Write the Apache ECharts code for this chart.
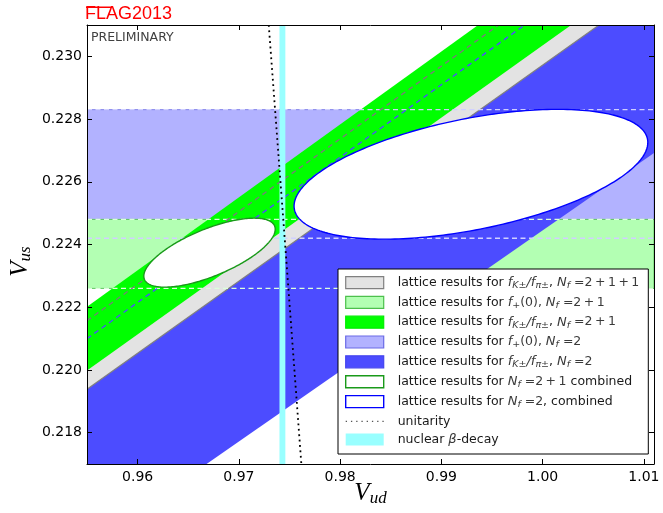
<!DOCTYPE html>
<html><head><meta charset="utf-8">
<script src="https://cdn.jsdelivr.net/npm/echarts@6/dist/echarts.min.js"></script>
<style>html,body{margin:0;padding:0;background:#fff}#c{width:663px;height:513px}</style>
</head><body><div id="c"></div>
<script>
// ---- axis ranges and tick labels ----
const vudRange = [0.955, 1.011];
const vusRange = [0.217, 0.231];
const vudTicks = [0.96, 0.97, 0.98, 0.99, 1.00, 1.01];
const vusTicks = [0.218, 0.220, 0.222, 0.224, 0.226, 0.228, 0.230];

// ---- horizontal bands: Vus interval from f+(0) ----
const fplusNf2  = [0.2242, 0.2283];
const fplusNf21 = [0.2226, 0.2248];
// ---- diagonal bands: interval of Vus/Vud from fK/fpi ----
const fKfpiNf2   = [0.22445, 0.23141];
const fKfpiNf211 = [0.22972, 0.23201];
const fKfpiNf21  = [0.23035, 0.23248];
// ---- combined ellipses: [centre Vud, centre Vus, half-width Vud, half-height Vus, correlation] ----
const ellipseNf21 = [0.96710, 0.22374, 0.00649, 0.00110, 0.68];
const ellipseNf2  = [0.99292, 0.22624, 0.01747, 0.00207, 0.49];
// ---- unitarity curve ----
const unitarityVud = [0.97295, 0.97457, 0.97617];
const unitarityVus = [0.231, 0.224, 0.217];
// ---- nuclear beta decay Vud interval ----
const betaDecay = [0.97401, 0.97459];

const X0 = vudRange[0], X1 = vudRange[1], Y0 = vusRange[0], Y1 = vusRange[1];

function clipRect(params) {
  const c = params.coordSys;
  return {type: 'rect', shape: {x: c.x, y: c.y, width: c.width, height: c.height}};
}

function hBand(name, range, fill, edge, z) {
  return {
    type: 'custom', name, z, data: [range], silent: true, clip: true,
    itemStyle: {color: fill},
    renderItem(params, api) {
      const a = api.value(0), b = api.value(1);
      const pts = [[X0, a], [X1, a], [X1, b], [X0, b]].map(p => api.coord(p));
      return {type: 'polygon', shape: {points: pts},
        style: {fill, stroke: edge, lineWidth: 1}, clipPath: clipRect(params)};
    }
  };
}

function dBand(name, ratios, fill, z, bottomEdge) {
  return {
    type: 'custom', name, z, data: [ratios], silent: true, clip: true,
    itemStyle: {color: fill},
    renderItem(params, api) {
      const a = api.value(0), b = api.value(1);
      const pts = [[X0, a * X0], [X1, a * X1], [X1, b * X1], [X0, b * X0]].map(p => api.coord(p));
      const children = [{type: 'polygon', shape: {points: pts}, style: {fill, lineWidth: 0}, clipPath: clipRect(params)}];
      if (bottomEdge) {
        children.push({type: 'line', shape: {x1: pts[0][0], y1: pts[0][1], x2: pts[1][0], y2: pts[1][1]},
          style: {stroke: bottomEdge, lineWidth: 1.2}, clipPath: clipRect(params)});
      }
      return {type: 'group', children};
    }
  };
}

function hDash(name, range, color, z) {
  return {
    type: 'custom', name, z, data: [range], silent: true, clip: true,
    renderItem(params, api) {
      const children = [0, 1].map(i => {
        const v = api.value(i);
        const p = api.coord([X0, v]), q = api.coord([X1, v]);
        return {type: 'line', shape: {x1: p[0], y1: p[1], x2: q[0], y2: q[1]},
          style: {stroke: color, lineWidth: 1.3, lineDash: [5, 3.5]}, clipPath: clipRect(params)};
      });
      return {type: 'group', children};
    }
  };
}

function dDash(name, ratios, idx, color, z) {
  return {
    type: 'custom', name, z, data: [ratios], silent: true, clip: true,
    renderItem(params, api) {
      const r = api.value(idx);
      const p = api.coord([X0, r * X0]), q = api.coord([X1, r * X1]);
      return {type: 'line', shape: {x1: p[0], y1: p[1], x2: q[0], y2: q[1]},
        style: {stroke: color, lineWidth: 1.4, lineDash: [5, 4]}, clipPath: clipRect(params)};
    }
  };
}

function ellipse(name, e, stroke, z) {
  return {
    type: 'custom', name, z, data: [e], silent: true, clip: true,
    dimensions: ['cx', 'cy', 'sx', 'sy', 'rho'],
    itemStyle: {color: '#fff', borderColor: stroke},
    renderItem(params, api) {
      const cx = api.value(0), cy = api.value(1), sx = api.value(2), sy = api.value(3), rho = api.value(4);
      const k = Math.sqrt(1 - rho * rho);
      const pts = [];
      for (let i = 0; i < 240; i++) {
        const t = i / 240 * 2 * Math.PI;
        pts.push(api.coord([cx + sx * Math.cos(t), cy + sy * (rho * Math.cos(t) + k * Math.sin(t))]));
      }
      return {type: 'polygon', shape: {points: pts},
        style: {fill: '#ffffff', stroke, lineWidth: 1.4}, clipPath: clipRect(params)};
    }
  };
}

const TS = '\u2009';
const labels = {
  fk211: '{t|lattice results for }{m|f}{s|K±}{m|/f}{s|π±}{t|, }{m|N}{s|f}{n| =2' + TS + '+' + TS + '1' + TS + '+' + TS + '1}',
  fp21:  '{t|lattice results for }{m|f}{s|+}{n|(0), }{m|N}{s|f}{n| =2' + TS + '+' + TS + '1}',
  fk21:  '{t|lattice results for }{m|f}{s|K±}{m|/f}{s|π±}{t|, }{m|N}{s|f}{n| =2' + TS + '+' + TS + '1}',
  fp2:   '{t|lattice results for }{m|f}{s|+}{n|(0), }{m|N}{s|f}{n| =2}',
  fk2:   '{t|lattice results for }{m|f}{s|K±}{m|/f}{s|π±}{t|, }{m|N}{s|f}{n| =2}',
  ell21: '{t|lattice results for }{m|N}{s|f}{n| =2' + TS + '+' + TS + '1}{t| combined}',
  ell2:  '{t|lattice results for }{m|N}{s|f}{n| =2}{t|, combined}',
  unitarity: '{t|unitarity}',
  beta:  '{t|nuclear }{m|β}{t|-decay}'
};

const axisLine = {show: true, onZero: false, lineStyle: {color: '#000', width: 1}};
const tickStyle = {lineStyle: {color: '#000', width: 1}};

const option = {
  animation: false,
  backgroundColor: '#fff',
  grid: {left: 87, top: 25, width: 567, height: 439, containLabel: false, outerBoundsMode: 'none'},
  xAxis: [
    {type: 'value', min: X0, max: X1, position: 'bottom', z: 20,
     axisLine, splitLine: {show: false},
     axisTick: Object.assign({inside: true, length: 5, customValues: vudTicks}, tickStyle),
     axisLabel: {customValues: vudTicks, formatter: v => v.toFixed(2), margin: 6,
       fontFamily: 'DejaVu Sans', fontSize: 14, color: '#000'},
     name: 'V{sub|ud}', nameLocation: 'middle', nameGap: 14, nameMoveOverlap: false,
     nameTextStyle: {fontFamily: 'Liberation Serif', fontStyle: 'italic', fontSize: 25, lineHeight: 30, color: '#000',
       rich: {sub: {fontFamily: 'Liberation Serif', fontStyle: 'italic', fontSize: 17, lineHeight: 17, padding: [12, 0, 0, 0], color: '#000'}}}},
    {type: 'value', min: X0, max: X1, position: 'top', z: 20,
     axisLine, splitLine: {show: false},
     axisTick: Object.assign({inside: true, length: 5, customValues: vudTicks}, tickStyle),
     axisLabel: {show: false}}
  ],
  yAxis: [
    {type: 'value', min: Y0, max: Y1, position: 'left', z: 20,
     axisLine, splitLine: {show: false},
     axisTick: Object.assign({inside: true, length: 5, customValues: vusTicks}, tickStyle),
     axisLabel: {customValues: vusTicks, formatter: v => v.toFixed(3), margin: 5,
       fontFamily: 'DejaVu Sans', fontSize: 14, color: '#000'},
     name: 'V{sub|us}', nameLocation: 'middle', nameRotate: 90, nameGap: 52, nameMoveOverlap: false,
     nameTextStyle: {fontFamily: 'Liberation Serif', fontStyle: 'italic', fontSize: 25, lineHeight: 30, color: '#000',
       padding: [0, 34, 0, 0],
       rich: {sub: {fontFamily: 'Liberation Serif', fontStyle: 'italic', fontSize: 17, lineHeight: 17, padding: [12, 0, 0, 0], color: '#000'}}}},
    {type: 'value', min: Y0, max: Y1, position: 'right', z: 20,
     axisLine, splitLine: {show: false},
     axisTick: Object.assign({inside: true, length: 5, customValues: vusTicks}, tickStyle),
     axisLabel: {show: false}}
  ],
  legend: {
    orient: 'vertical', left: 338, top: 269, z: 30, selectedMode: false,
    padding: [7, 9, 8, 7], borderColor: '#000', borderWidth: 1, backgroundColor: '#fff',
    itemWidth: 38, itemHeight: 12, itemGap: 5.2,
    formatter: name => labels[name],
    textStyle: {padding: [0, 0, 0, 9], color: '#1a1a1a',
      rich: {
        t: {fontFamily: 'DejaVu Sans', fontSize: 12.5, lineHeight: 16, color: '#1a1a1a'},
        n: {fontFamily: 'DejaVu Sans', fontSize: 12.5, lineHeight: 16, color: '#3a3a3a'},
        m: {fontFamily: 'DejaVu Sans', fontStyle: 'italic', fontSize: 13, lineHeight: 16, color: '#3a3a3a'},
        s: {fontFamily: 'DejaVu Sans', fontStyle: 'italic', fontSize: 9.5, lineHeight: 10, verticalAlign: 'bottom', color: '#3a3a3a'}
      }},
    data: [
      {name: 'fk211', icon: 'rect', itemStyle: {color: '#e3e3e3', borderColor: '#808080', borderWidth: 1.2}},
      {name: 'fp21', icon: 'rect', itemStyle: {color: '#b3ffb3', borderColor: '#4cc04c', borderWidth: 1.2}},
      {name: 'fk21', icon: 'rect', itemStyle: {color: '#00ff00', borderColor: '#00ee00', borderWidth: 1.2}},
      {name: 'fp2', icon: 'rect', itemStyle: {color: '#b2b2ff', borderColor: '#6a6ae6', borderWidth: 1.2}},
      {name: 'fk2', icon: 'rect', itemStyle: {color: '#4c4cff', borderColor: '#4444ee', borderWidth: 1.2}},
      {name: 'ell21', icon: 'rect', itemStyle: {color: '#ffffff', borderColor: '#1a9a1a', borderWidth: 1.4}},
      {name: 'ell2', icon: 'rect', itemStyle: {color: '#ffffff', borderColor: '#0000ff', borderWidth: 1.4}},
      {name: 'unitarity', icon: 'path://M0,0h1v1h-1z M4,0h1v1h-1z M8,0h1v1h-1z M12,0h1v1h-1z M16,0h1v1h-1z M20,0h1v1h-1z M24,0h1v1h-1z M28,0h1v1h-1z', itemStyle: {color: '#555', borderWidth: 0}},
      {name: 'beta', icon: 'rect', itemStyle: {color: '#99ffff', borderWidth: 0}}
    ]
  },
  graphic: {elements: [
    {type: 'text', left: 85, top: 5, z: 30, style: {text: 'FLAG2013', fill: '#ff0000', font: '18px "Liberation Sans"'}},
    {type: 'rect', left: 86, top: 6.5, z: 30, shape: {width: 26, height: 1.5}, style: {fill: '#ff0000'}},
    {type: 'text', left: 91, top: 31, z: 30, style: {text: 'PRELIMINARY', fill: '#404040', font: '12.5px "DejaVu Sans"'}}
  ]},
  series: [
    hBand('fp2', fplusNf2, '#b2b2ff', '#8282ea', 1),
    hBand('fp21', fplusNf21, '#b3ffb3', '#60c860', 2),
    dBand('fk2', fKfpiNf2, '#4c4cff', 3, null),
    dBand('fk211', fKfpiNf211, '#e3e3e3', 4, '#808080'),
    dBand('fk21', fKfpiNf21, '#00ff00', 5, null),
    hDash('fp2 edges', fplusNf2, '#d0d0ff', 6),
    hDash('fp21 edges', fplusNf21, '#dcffdc', 6),
    dDash('fk211 edge', fKfpiNf211, 1, '#7a7a7a', 6),
    dDash('fk2 edge', fKfpiNf2, 1, '#4d4dff', 6),
    ellipse('ell21', ellipseNf21, '#1a9a1a', 7),
    ellipse('ell2', ellipseNf2, '#0000ff', 7),
    {type: 'custom', name: 'beta', z: 8, data: [betaDecay], silent: true, clip: true,
     itemStyle: {color: '#99ffff'},
     renderItem(params, api) {
       const a = api.value(0), b = api.value(1);
       const pts = [[a, Y0], [b, Y0], [b, Y1], [a, Y1]].map(p => api.coord(p));
       return {type: 'polygon', shape: {points: pts}, style: {fill: '#99ffff'}, clipPath: clipRect(params)};
     }},
    {type: 'line', name: 'unitarity', z: 9, silent: true, clip: true, symbol: 'none', showSymbol: false,
     data: unitarityVud.map((v, i) => [v, unitarityVus[i]]),
     itemStyle: {color: '#555'},
     lineStyle: {color: '#000', width: 1.8, type: [1.8, 3.6]}}
  ]
};

const chart = echarts.init(document.getElementById('c'), null, {renderer: 'canvas'});
chart.setOption(option);
</script>
</body></html>
